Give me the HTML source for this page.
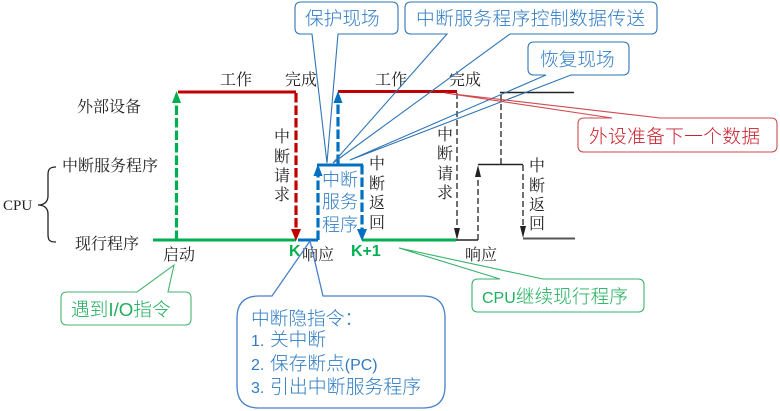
<!DOCTYPE html>
<html><head><meta charset="utf-8"><style>
html,body{margin:0;padding:0;background:#fff}
svg{display:block}
.b{font-family:"Liberation Serif","Noto Serif CJK SC",serif;font-size:16px;fill:#222}
.c{font-family:"Liberation Sans","Noto Sans CJK SC",sans-serif;font-size:18.7px;font-weight:300}
.bl{fill:#2f7cc4}
.l{font-size:16px}
.k{font-family:"Liberation Sans",sans-serif;font-size:16px;font-weight:bold;fill:#00B050}
</style></head><body>
<svg width="780" height="411" viewBox="0 0 780 411" xmlns="http://www.w3.org/2000/svg">
<!-- main lines -->
<g fill="none">
<path d="M153 240H296M362 240H456" stroke="#00B050" stroke-width="3"/>
<path d="M298 240H318" stroke="#0070C0" stroke-width="3"/>
<path d="M178 92H296M338 91.500H457" stroke="#C00000" stroke-width="3"/>
<path d="M176.500 240V102" stroke="#00B050" stroke-width="3.200" stroke-dasharray="9.500 3"/>
<path d="M296 93V230" stroke="#C00000" stroke-width="3.200" stroke-dasharray="9.500 3"/>
<path d="M318 240V176" stroke="#0070C0" stroke-width="3.200" stroke-dasharray="9.500 3"/>
<path d="M338 164V102" stroke="#0070C0" stroke-width="3.200" stroke-dasharray="9.500 3"/>
<path d="M362 165V230" stroke="#0070C0" stroke-width="3.200" stroke-dasharray="9.500 3"/>
<path d="M317 165H363" stroke="#0070C0" stroke-width="3"/>
<path d="M457 93V232M478 240V172M523 165V230M501 164V93" stroke="#222" stroke-width="1.300" stroke-dasharray="6 3"/>
<path d="M456 240H478M478 164.500H523M500 92.500H574" stroke="#222" stroke-width="1.500"/>
<path d="M523 238.500H575" stroke="#555" stroke-width="2"/>
<path d="M56 167C49 167 48 170 48 175V196C48 202 44 205 38 205C44 205 48 208 48 214V234C48 240 49 242 56 242" stroke="#222" stroke-width="1.300"/>
</g>
<!-- arrowheads -->
<polygon points="176.500,91 172,103 181,103" fill="#00B050"/>
<polygon points="296,241 291,229 301,229" fill="#C00000"/>
<polygon points="318,164 313.500,176 322.500,176" fill="#0070C0"/>
<polygon points="338,91 333.500,103 342.500,103" fill="#0070C0"/>
<polygon points="362,241 357,229 367,229" fill="#0070C0"/>
<polygon points="457,240 454,228 460,228" fill="#222"/>
<polygon points="478,165 475,177 481,177" fill="#222"/>
<polygon points="523,238 520,226 526,226" fill="#222"/>
<!-- labels -->
<g class="b">
<text x="220" y="85">工作</text><text x="285" y="85">完成</text>
<text x="375" y="85">工作</text><text x="449" y="85">完成</text>
<text x="77" y="112">外部设备</text>
<text x="62" y="171">中断服务程序</text>
<text x="75" y="249">现行程序</text>
<text x="3" y="210" style="font-size:15px">CPU</text>
<text x="163" y="260">启动</text>
<text x="302" y="260">响应</text>
<text x="465" y="260">响应</text>
<g text-anchor="middle">
<text x="282" y="142">中</text><text x="282" y="162">断</text><text x="282" y="181">请</text><text x="282" y="200">求</text>
<text x="445" y="140">中</text><text x="445" y="159">断</text><text x="445" y="179">请</text><text x="445" y="198">求</text>
<text x="377" y="169">中</text><text x="377" y="189">断</text><text x="377" y="208">返</text><text x="377" y="228">回</text>
<text x="537" y="171">中</text><text x="537" y="191">断</text><text x="537" y="210">返</text><text x="537" y="229">回</text>
</g>
</g>
<text class="k" x="289" y="256">K</text>
<text class="k" x="351" y="256">K+1</text>
<!-- callouts -->
<g fill="none" stroke-width="1.100">
<path d="M301 2H392Q398 2 398 8V28Q398 34 392 34H338L327 163L312 34H301Q295 34 295 28V8Q295 2 301 2Z" stroke="#2E75B6"/>
<path d="M411 2H651Q657 2 657 8V28Q657 34 651 34H510L333 163L447 34H411Q405 34 405 28V8Q405 2 411 2Z" stroke="#2E75B6"/>
<path d="M534 42H623Q629 42 629 48V69Q629 75 623 75H571L350 160L546 75H534Q528 75 528 69V48Q528 42 534 42Z" stroke="#2E75B6"/>
<path d="M584 118H612L445 93L660 118H771Q777 118 777 124V146Q777 152 771 152H584Q578 152 578 146V124Q578 118 584 118Z" stroke="#CE4A50"/>
<path d="M67 292H137L174 265L168 292H185Q191 292 191 298V319Q191 325 185 325H67Q61 325 61 319V298Q61 292 67 292Z" stroke="#47B36E"/>
<path d="M259 296H272L310 241L323 296H423Q445 296 445 318V386Q445 408 423 408H259Q237 408 237 386V318Q237 296 259 296Z" stroke="#4A80C8" stroke-width="1.300"/>
<path d="M478 279H500L399 248L543 279H638Q644 279 644 285V306Q644 312 638 312H478Q472 312 472 306V285Q472 279 478 279Z" stroke="#35B36B"/>
</g>
<g class="c bl">
<text x="305" y="25">保护现场</text>
<text x="416" y="25" textLength="229">中断服务程序控制数据传送</text>
<text x="540" y="66">恢复现场</text>
<g text-anchor="middle" style="font-size:18px">
<text x="340" y="186">中断</text><text x="340" y="208">服务</text><text x="340" y="231">程序</text>
</g>
<text x="251" y="325">中断隐指令：</text>
<text x="251" y="346"><tspan class="l">1.</tspan><tspan x="270">关中断</tspan></text>
<text x="251" y="370"><tspan class="l">2.</tspan><tspan x="270">保存断点</tspan><tspan class="l">(PC)</tspan></text>
<text x="251" y="393"><tspan class="l">3.</tspan><tspan x="270" style="font-size:18.900px">引出中断服务程序</tspan></text>
</g>
<text class="c" x="589" y="143" textLength="171" fill="#C8202C">外设准备下一个数据</text>
<text class="c" x="71" y="316" fill="#1FAE5C">遇到I/O指令</text>
<text class="c" x="482" y="303" fill="#1FAE5C"><tspan class="l">CPU</tspan>继续现行程序</text>
</svg>
</body></html>
